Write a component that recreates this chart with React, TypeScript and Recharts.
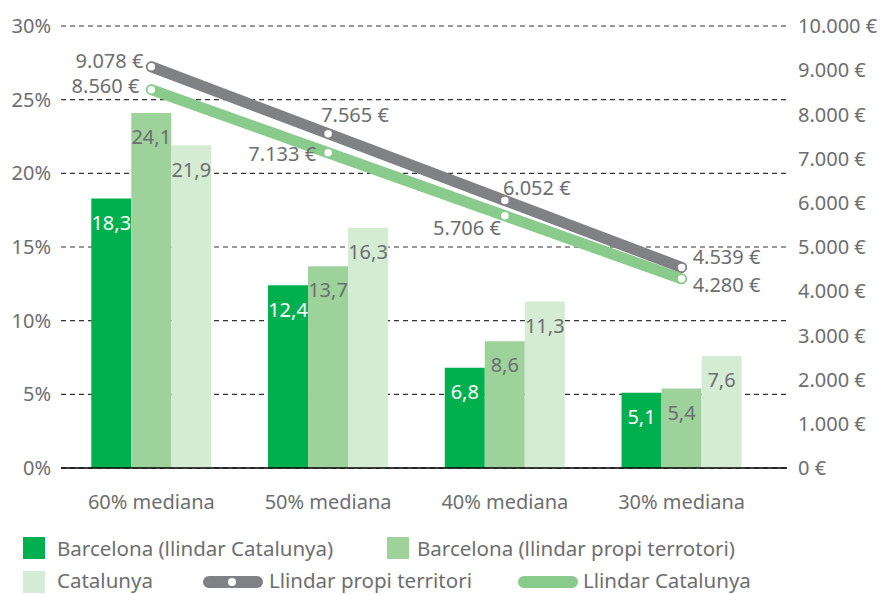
import React from "react";
import {
    ComposedChart,
    Bar,
    Line,
    XAxis,
    YAxis,
    CartesianGrid,
    Legend,
    LabelList,
} from "recharts";

const categories = ["60% mediana", "50% mediana", "40% mediana", "30% mediana"];
const bcnLlindarCat = [18.3, 12.4, 6.8, 5.1];
const bcnLlindarPropi = [24.1, 13.7, 8.6, 5.4];
const catalunya = [21.9, 16.3, 11.3, 7.6];
const llindarPropi = [9078, 7565, 6052, 4539];
const llindarCat = [8560, 7133, 5706, 4280];
const pctTicks = [0, 5, 10, 15, 20, 25, 30];
const eurTicks = [0, 1000, 2000, 3000, 4000, 5000, 6000, 7000, 8000, 9000, 10000];

const data = categories.map((name, i) => ({
    name,
    bcnCat: bcnLlindarCat[i],
    bcnPropi: bcnLlindarPropi[i],
    cat: catalunya[i],
    propi: llindarPropi[i],
    llCat: llindarCat[i],
}));

const TEXT = "#6d6e71";
const DARK = "#00b04f";
const MID = "#9dd39b";
const LIGHT = "#d5ecd4";
const GRAY_LINE = "#808184";
const GREEN_LINE = "#88cb8b";
const FS = 20;

const fmtEur = (v: number) => String(v).replace(/\B(?=(\d{3})+(?!\d))/g, ".") + " €";
const fmtComma = (v: any) => String(v).replace(".", ",");

// label placement per point: [dx, dy, anchor]
const grayPlace: [number, number, string][] = [
    [-8, -6, "end"],
    [-7, -19, "start"],
    [-2, -13, "start"],
    [11, -11, "start"],
];
const greenPlace: [number, number, string][] = [
    [-12, -4, "end"],
    [-12, 1, "end"],
    [-4, 12, "end"],
    [11, 6, "start"],
];

const makeLineLabel = (place: [number, number, string][]) => (props: any) => {
    const { x, y, value, index } = props;
    const [dx, dy, anchor] = place[index];
    return (
        <text
            x={x + dx}
            y={y + dy}
            textAnchor={anchor}
            dominantBaseline="central"
            fill={TEXT}
            fontSize={FS}
        >
            {fmtEur(value)}
        </text>
    );
};

const Square = ({ color, left, top }: { color: string; left: number; top: number }) => (
    <div style={{ position: "absolute", left, top, width: 22, height: 22, background: color }} />
);

const LineIcon = ({ color, left, top, dot }: { color: string; left: number; top: number; dot?: boolean }) => (
    <div
        style={{
            position: "absolute",
            left,
            top,
            width: 60,
            height: 12,
            borderRadius: 6,
            background: color,
        }}
    >
        {dot && (
            <div
                style={{
                    position: "absolute",
                    left: 25,
                    top: 2,
                    width: 8,
                    height: 8,
                    borderRadius: 4,
                    background: "#fff",
                }}
            />
        )}
    </div>
);

const Label = ({ text, left, center }: { text: string; left: number; center: number }) => (
    <div
        style={{
            position: "absolute",
            left,
            top: center - 11,
            height: 22,
            lineHeight: "22px",
            whiteSpace: "nowrap",
        }}
    >
        {text}
    </div>
);

const renderLegend = () => (
    <div style={{ position: "relative", width: 883, height: 72, fontSize: 20.5, color: TEXT }}>
        <Square color={DARK} left={23} top={14} />
        <Label text="Barcelona (llindar Catalunya)" left={57} center={25} />
        <Square color={MID} left={387} top={14} />
        <Label text="Barcelona (llindar propi terrotori)" left={417} center={25} />
        <Square color={LIGHT} left={23} top={48} />
        <Label text="Catalunya" left={57} center={57} />
        <LineIcon color={GRAY_LINE} left={203} top={53} dot />
        <Label text="Llindar propi territori" left={269} center={57} />
        <LineIcon color={GREEN_LINE} left={518} top={53} />
        <Label text="Llindar Catalunya" left={583} center={57} />
    </div>
);

export default function App() {
    return (
        <div style={{ position: "absolute", left: 0, top: 0, fontFamily: "'Noto Sans', sans-serif" }}>
            <ComposedChart
                width={883}
                height={595}
                data={data}
                margin={{ top: 26, right: 0, bottom: 0, left: 0 }}
                barCategoryGap="16%"
                barGap={0}
            >
                <CartesianGrid
                    yAxisId="left"
                    vertical={false}
                    strokeDasharray="5 4"
                    stroke="#333"
                    strokeWidth={1.2}
                />
                <XAxis
                    dataKey="name"
                    axisLine={{ stroke: "#000", strokeWidth: 1.5 }}
                    tickLine={false}
                    tickSize={0}
                    tickMargin={27}
                    height={55}
                    padding={{ left: 2, right: 17 }}
                    tick={{ fill: TEXT, fontSize: FS }}
                />
                <YAxis
                    yAxisId="left"
                    domain={[0, 30]}
                    ticks={pctTicks}
                    tickFormatter={(v) => `${v}%`}
                    axisLine={false}
                    tickLine={false}
                    tickSize={0}
                    tickMargin={10}
                    width={61}
                    tick={{ fill: TEXT, fontSize: FS }}
                />
                <YAxis
                    yAxisId="right"
                    orientation="right"
                    domain={[0, 10000]}
                    ticks={eurTicks}
                    tickFormatter={fmtEur}
                    axisLine={false}
                    tickLine={false}
                    tickSize={0}
                    tickMargin={11}
                    width={96}
                    tick={{ fill: TEXT, fontSize: FS }}
                />
                <Legend verticalAlign="bottom" content={renderLegend} wrapperStyle={{ height: 72 }} />
                <Bar yAxisId="left" dataKey="bcnCat" fill={DARK} isAnimationActive={false}>
                    <LabelList dataKey="bcnCat" position="insideTop" offset={17} fill="#fff" fontSize={FS} formatter={fmtComma} />
                </Bar>
                <Bar yAxisId="left" dataKey="bcnPropi" fill={MID} isAnimationActive={false}>
                    <LabelList dataKey="bcnPropi" position="insideTop" offset={17} fill={TEXT} fontSize={FS} formatter={fmtComma} />
                </Bar>
                <Bar yAxisId="left" dataKey="cat" fill={LIGHT} isAnimationActive={false}>
                    <LabelList dataKey="cat" position="insideTop" offset={17} fill={TEXT} fontSize={FS} formatter={fmtComma} />
                </Bar>
                <Line
                    yAxisId="right"
                    dataKey="llCat"
                    stroke={GREEN_LINE}
                    strokeWidth={11}
                    strokeLinecap="round"
                    dot={{ r: 4.5, fill: "#fff", stroke: GREEN_LINE, strokeWidth: 1.5 }}
                    activeDot={false}
                    isAnimationActive={false}
                >
                    <LabelList dataKey="llCat" content={makeLineLabel(greenPlace)} />
                </Line>
                <Line
                    yAxisId="right"
                    dataKey="propi"
                    stroke={GRAY_LINE}
                    strokeWidth={11}
                    strokeLinecap="round"
                    dot={{ r: 4.5, fill: "#fff", stroke: GRAY_LINE, strokeWidth: 1.5 }}
                    activeDot={false}
                    isAnimationActive={false}
                >
                    <LabelList dataKey="propi" content={makeLineLabel(grayPlace)} />
                </Line>
            </ComposedChart>
        </div>
    );
}
